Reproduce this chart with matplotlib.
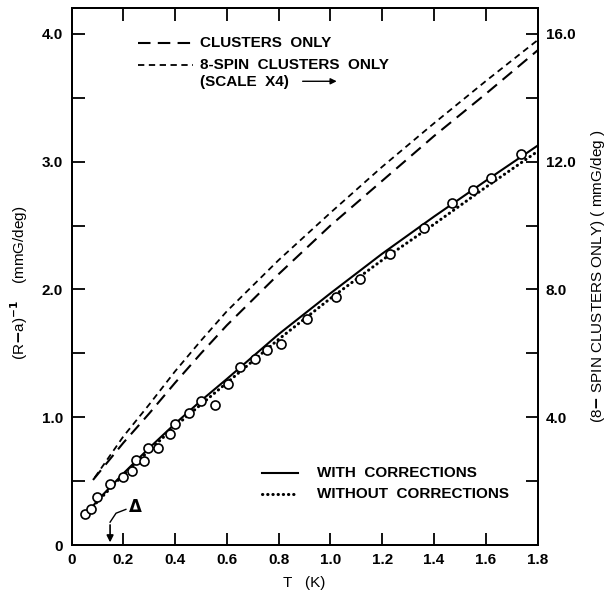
import matplotlib
matplotlib.use("Agg")
import matplotlib.pyplot as plt

plt.rcParams.update({
    "font.family": ["Liberation Sans", "DejaVu Sans"],
    "font.weight": "bold",
    "font.size": 11,
    "axes.linewidth": 1.4,
})

# measured points, (R-a)^-1 vs T
T_DATA = [0.054, 0.077, 0.10, 0.147, 0.20, 0.235, 0.248, 0.279, 0.294, 0.336,
          0.38, 0.398, 0.452, 0.50, 0.553, 0.605, 0.65, 0.71, 0.755, 0.81,
          0.91, 1.02, 1.116, 1.232, 1.36, 1.47, 1.55, 1.62, 1.735]
V_DATA = [0.24, 0.28, 0.38, 0.48, 0.53, 0.58, 0.67, 0.66, 0.76, 0.76,
          0.87, 0.95, 1.03, 1.13, 1.10, 1.26, 1.39, 1.46, 1.53, 1.57,
          1.77, 1.94, 2.08, 2.28, 2.48, 2.68, 2.78, 2.87, 3.06]

# fit curves
T_WITH = [0.05, 0.1, 0.2, 0.3, 0.4, 0.5, 0.6, 0.8, 1.0, 1.2, 1.4, 1.6, 1.8]
V_WITH = [0.22, 0.35, 0.56, 0.76, 0.95, 1.13, 1.30, 1.65, 1.97, 2.28, 2.57, 2.85, 3.125]

T_WITHOUT = [0.07, 0.1, 0.2, 0.3, 0.4, 0.5, 0.6, 0.8, 1.0, 1.2, 1.4, 1.6, 1.8]
V_WITHOUT = [0.27, 0.34, 0.55, 0.74, 0.93, 1.10, 1.27, 1.61, 1.93, 2.23, 2.51, 2.80, 3.08]

T_CLUSTERS = [0.083, 0.2, 0.3, 0.4, 0.5, 0.6, 0.8, 1.0, 1.2, 1.4, 1.6, 1.8]
V_CLUSTERS = [0.51, 0.80, 1.03, 1.27, 1.50, 1.72, 2.12, 2.50, 2.85, 3.20, 3.53, 3.87]

# 8-spin clusters only, in right-axis units (mmG/deg, scale x4)
T_8SPIN = [0.09, 0.2, 0.3, 0.4, 0.5, 0.6, 0.8, 1.0, 1.2, 1.4, 1.6, 1.8]
V_8SPIN = [2.12, 3.40, 4.40, 5.44, 6.40, 7.32, 8.92, 10.40, 11.84, 13.20, 14.52, 15.80]

X_TICKS = [0, 0.2, 0.4, 0.6, 0.8, 1.0, 1.2, 1.4, 1.6, 1.8]
X_LABELS = ["0", "0.2", "0.4", "0.6", "0.8", "1.0", "1.2", "1.4", "1.6", "1.8"]
Y_TICKS = [0, 1, 2, 3, 4]
Y_LABELS = ["0", "1.0", "2.0", "3.0", "4.0"]
Y2_TICKS = [4, 8, 12, 16]
Y2_LABELS = ["4.0", "8.0", "12.0", "16.0"]

fig = plt.figure(figsize=(6.06, 5.90), dpi=100)
ax = fig.add_axes([0.118, 0.076, 0.769, 0.910])
ax2 = ax.twinx()

ax.plot(T_WITH, V_WITH, color="black", lw=1.5)
ax.plot(T_WITHOUT, V_WITHOUT, color="black", lw=2.2, linestyle=(0, (0.1, 1.6)),
        dash_capstyle="round")
ax.plot(T_CLUSTERS, V_CLUSTERS, color="black", lw=1.5, dashes=(6, 3.5))
ax2.plot(T_8SPIN, V_8SPIN, color="black", lw=1.3, dashes=(3.5, 2.5))
ax.plot(T_DATA, V_DATA, "o", mfc="white", mec="black", mew=1.2, ms=6.5, zorder=5)

ax.set_xlim(0, 1.8)
ax.set_ylim(0, 4.2)
ax2.set_ylim(0, 16.8)

ax.set_xticks(X_TICKS)
ax.set_xticklabels(X_LABELS)
ax.set_yticks(Y_TICKS)
ax.set_yticklabels(Y_LABELS)
ax.set_yticks([0.5, 1.5, 2.5, 3.5], minor=True)
ax2.set_yticks(Y2_TICKS)
ax2.set_yticklabels(Y2_LABELS)
ax2.set_yticks([2, 6, 10, 14], minor=True)

ax.tick_params(axis="both", which="both", direction="in", length=9, width=1.3,
               top=True, labelsize=11, pad=6)
ax2.tick_params(axis="y", which="both", direction="in", length=9, width=1.3,
                labelsize=11, pad=6)
ax.tick_params(axis="x", which="both", top=True, bottom=True)

ax.set_xlabel("T   (K)", fontsize=11, labelpad=6)
ax.set_ylabel(r"(R$-$a)$^{-1}$    (mmG/deg)", fontsize=11)
ax.yaxis.set_label_coords(-0.09, 0.488)
ax2.set_ylabel("(8$-$ SPIN CLUSTERS ONLY) ( mmG/deg )", fontsize=11, labelpad=10)

# legend drawn by hand
tr = ax.transAxes
ax.plot([0.143, 0.261], [0.935, 0.935], color="black", lw=1.5, dashes=(6, 3.5), transform=tr)
ax.text(0.276, 0.935, "CLUSTERS  ONLY", transform=tr, va="center", fontsize=11)
ax.plot([0.143, 0.261], [0.894, 0.894], color="black", lw=1.3, dashes=(3.5, 2.5), transform=tr)
ax.text(0.276, 0.894, "8-SPIN  CLUSTERS  ONLY", transform=tr, va="center", fontsize=11)
ax.text(0.276, 0.862, "(SCALE  X4)", transform=tr, va="center", fontsize=11)
ax.annotate("", xy=(0.575, 0.864), xytext=(0.49, 0.864), xycoords=tr,
            arrowprops=dict(arrowstyle="-|>", color="black", lw=1.0, mutation_scale=9))

ax.plot([0.409, 0.486], [0.134, 0.134], color="black", lw=1.5, transform=tr)
ax.text(0.527, 0.134, "WITH  CORRECTIONS", transform=tr, va="center", fontsize=11)
ax.plot([0.409, 0.486], [0.095, 0.095], color="black", lw=2.2,
        linestyle=(0, (0.1, 1.6)), dash_capstyle="round", transform=tr)
ax.text(0.527, 0.095, "WITHOUT  CORRECTIONS", transform=tr, va="center", fontsize=11)

# Delta marker
ax.annotate("", xy=(0.149, 0.0), xytext=(0.149, 0.18),
            arrowprops=dict(arrowstyle="-|>", color="black", lw=1.2, mutation_scale=10))
ax.plot([0.149, 0.172, 0.21], [0.18, 0.25, 0.28], color="black", lw=1.0)
ax.text(0.245, 0.30, r"$\Delta$", fontsize=12, va="center", ha="center")

fig.savefig("out.png", dpi=100)
